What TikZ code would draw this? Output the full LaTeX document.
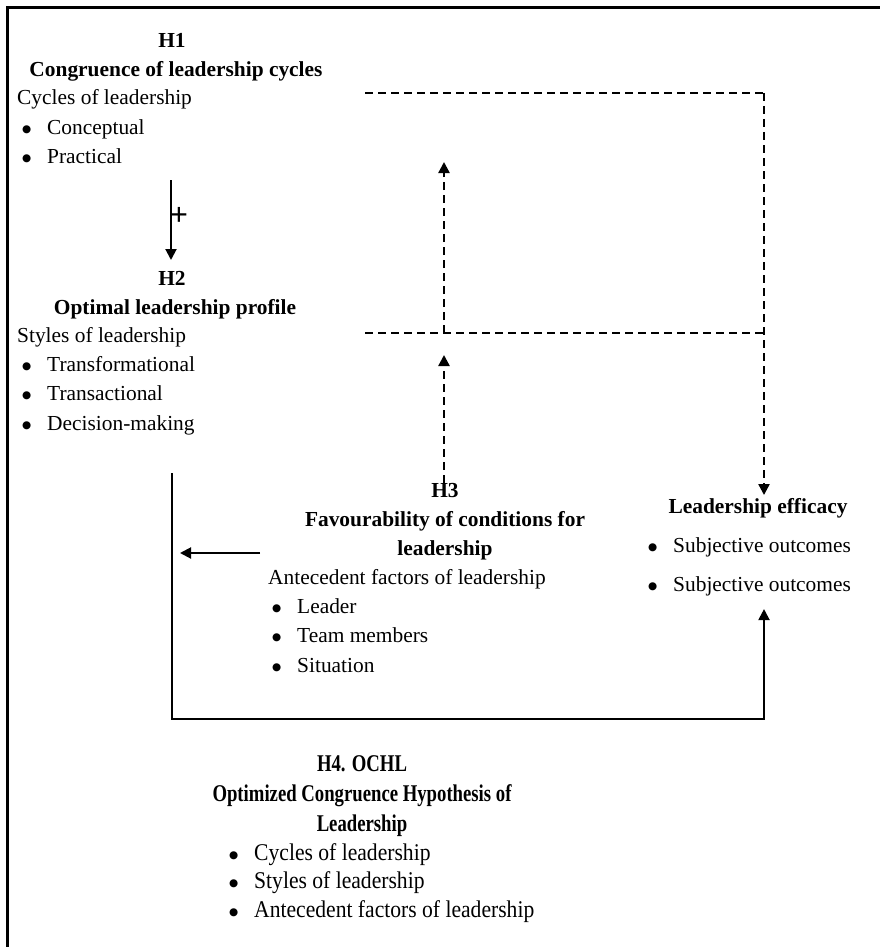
\documentclass[tikz,border=0pt]{standalone}
\usepackage{fontspec}
\setmainfont{Liberation Serif}
\newfontfamily\narrowserif[FakeStretch=0.78]{Liberation Serif}
\newfontfamily\tallserif[FakeStretch=0.9]{Liberation Serif}
\newfontfamily\dotfont{DejaVu Sans}
\usetikzlibrary{positioning,arrows.meta}

\newcommand{\bitem}[1]{\makebox[25pt][l]{\raisebox{2.2pt}{\dotfont\fontsize{10.5}{10.5}\selectfont ●}}#1}

\begin{document}
\begin{tikzpicture}
      [ x=1pt, y=-1pt, inner sep=0pt,
        font=\fontsize{21.4}{29}\selectfont,
        head/.style={anchor=mid, font=\fontsize{21.4}{29}\selectfont\bfseries},
        line/.style={anchor=mid west},
        narrowhead/.style={anchor=mid, font=\fontsize{24}{29}\selectfont\narrowserif\bfseries},
        narrowline/.style={anchor=mid west, font=\fontsize{24}{29}\selectfont\tallserif},
        solidlink/.style={line width=2pt},
        dashlink/.style={line width=2.3pt, dash pattern=on 8pt off 5pt},
        tip/.style={-{Triangle[length=11pt,width=11pt]}}
      ]
      \useasboundingbox (0,0) rectangle (880,947);
      \draw[line width=3pt] (7,947) -- (7,8) -- (880,8);

      % H1
      \node[head] (h1)     at (172,45)  {H1};
      \node[head] (h1t)    at (176,74)  {Congruence of leadership cycles};
      \node[line] (cyc)    at (17,102)  {Cycles of leadership};
      \node[line] (conc)   at (22,132)  {\bitem{Conceptual}};
      \node[line] (prac)   at (22,161)  {\bitem{Practical}};

      % H2
      \node[head] (h2)     at (172,283) {H2};
      \node[head] (h2t)    at (175,312) {Optimal leadership profile};
      \node[line] (sty)    at (17,340)  {Styles of leadership};
      \node[line] (trf)    at (22,369)  {\bitem{Transformational}};
      \node[line] (trs)    at (22,398)  {\bitem{Transactional}};
      \node[line] (dec)    at (22,428)  {\bitem{Decision-making}};

      % H3
      \node[head] (h3)     at (445,495) {H3};
      \node[head] (h3t)    at (445,524) {Favourability of conditions for};
      \node[head] (h3u)    at (445,553) {leadership};
      \node[line] (ante)   at (268,582) {Antecedent factors of leadership};
      \node[line] (lead)   at (272,611) {\bitem{Leader}};
      \node[line] (team)   at (272,640) {\bitem{Team members}};
      \node[line] (sit)    at (272,670) {\bitem{Situation}};

      % efficacy
      \node[head] (eff)    at (758,511) {Leadership efficacy};
      \node[line] (sub1)   at (648,550) {\bitem{Subjective outcomes}};
      \node[line] (sub2)   at (648,589) {\bitem{Subjective outcomes}};

      % H4
      \node[narrowhead] (h4)  at (362,769) {H4. OCHL};
      \node[narrowhead] (h4t) at (362,799) {Optimized Congruence Hypothesis of};
      \node[narrowhead] (h4u) at (362,829) {Leadership};
      \node[narrowline] (ocyc) at (229,858) {\bitem{Cycles of leadership}};
      \node[narrowline] (osty) at (229,886) {\bitem{Styles of leadership}};
      \node[narrowline] (oant) at (229,915) {\bitem{Antecedent factors of leadership}};

      % connectors
      \coordinate (a1) at (171,180);
      \coordinate (a2) at (171,260);
      \node[font=\fontsize{32}{32}\selectfont\bfseries] (plus) at (179,216) {+};
      \draw[solidlink,tip] (a1) -- (a2);

      \coordinate (tl) at (365,93);
      \coordinate (tr) at (764,93);
      \coordinate (ml) at (365,333);
      \coordinate (mr) at (764,333);
      \coordinate (mc) at (444,333);
      \coordinate (up) at (444,162);
      \coordinate (lo) at (444,355);
      \draw[dashlink] (tl) -- (tr);
      \draw[dashlink,tip,shorten >=3pt] (tr) -- (eff.north -| tr);
      \draw[dashlink] (ml) -- (mr);
      \draw[dashlink,tip] (mc) -- (up);
      \draw[dashlink,tip] (h3.north -| mc) -- (lo);

      \coordinate (sl) at (172,473);
      \coordinate (bl) at (172,719);
      \coordinate (br) at (764,719);
      \coordinate (la) at (260,553);
      \coordinate (lb) at (180,553);
      \draw[solidlink,tip,shorten >=13pt] (sl) -- (bl) -- (br) -- (sub2.south -| br);
      \draw[solidlink,tip] (la) -- (lb);
\end{tikzpicture}
\end{document}
